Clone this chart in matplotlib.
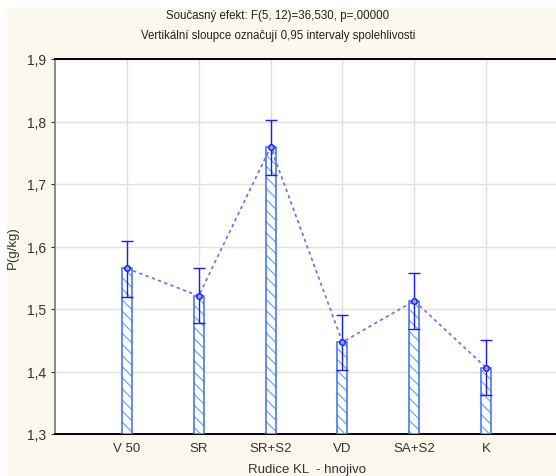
import matplotlib.pyplot as plt
import matplotlib as mpl
from matplotlib.patches import Rectangle

plt.rcParams['font.family'] = ['Liberation Sans', 'DejaVu Sans']
mpl.rcParams['hatch.linewidth'] = 0.8

categories = ['V 50', 'SR', 'SR+S2', 'VD', 'SA+S2', 'K']
means = [1.565, 1.521, 1.759, 1.447, 1.513, 1.406]
ci_low = [1.519, 1.478, 1.714, 1.402, 1.468, 1.362]
ci_high = [1.609, 1.566, 1.802, 1.490, 1.558, 1.450]
yticks = [1.3, 1.4, 1.5, 1.6, 1.7, 1.8, 1.9]

fig = plt.figure(figsize=(5.56, 4.77), dpi=100, facecolor='#fdf8ee')
# white strips of the original screenshot
fig.patches.append(Rectangle((0, 0.982), 1, 0.02, transform=fig.transFigure,
                             facecolor='white', edgecolor='none', zorder=0))
fig.patches.append(Rectangle((0, 0), 0.013, 1, transform=fig.transFigure,
                             facecolor='white', edgecolor='none', zorder=0))

ax = fig.add_axes([55 / 556, 1 - 435 / 477, 503 / 556, 375 / 477])
ax.set_facecolor('white')

x = list(range(len(categories)))
base = 1.3
heights = [m - base for m in means]
# hatch in light blue, outline in stronger blue
ax.bar(x, heights, bottom=base, width=0.14, facecolor='white',
       edgecolor='#5aa0ff', hatch='\\\\\\', linewidth=0, zorder=3)
ax.bar(x, heights, bottom=base, width=0.14, facecolor='none',
       edgecolor='#3a6cf0', linewidth=1.1, zorder=3)
ax.plot(x, means, linestyle=(0, (2, 2)), color='#6a6aff', linewidth=1.2, zorder=4)
ax.errorbar(x, means,
            yerr=[[m - l for m, l in zip(means, ci_low)],
                  [h - m for m, h in zip(means, ci_high)]],
            fmt='o', color='#1a1aff', markersize=4, markerfacecolor='#9a9aff',
            markeredgecolor='#1a1aff', elinewidth=1.0, capsize=4, capthick=1.0, zorder=5)

ax.set_xlim(-1, 6)
ax.set_ylim(1.3, 1.9)
ax.set_xticks(x)
ax.set_xticklabels(categories, fontsize=9.5, color='#333333')
ax.set_yticks(yticks)
ax.set_yticklabels([f'{v:.1f}'.replace('.', ',') for v in yticks], fontsize=10, color='#333333')
ax.tick_params(axis='x', length=0, pad=6)
ax.tick_params(axis='y', length=3, direction='out', color='#333333')
ax.grid(True, color='#e0e0e0', linewidth=1.0, zorder=0)
ax.set_axisbelow(True)

for s in ['top', 'bottom']:
    ax.spines[s].set_color('black')
    ax.spines[s].set_linewidth(1.4)
ax.spines['left'].set_color('#777777')
ax.spines['left'].set_linewidth(1.2)
ax.spines['right'].set_visible(False)

ax.set_ylabel('P(g/kg)', fontsize=9.5, color='#333333', labelpad=6)
ax.set_xlabel('Rudice KL  - hnojivo', fontsize=9.5, color='#333333', labelpad=6)

fig.text(0.5, 1 - 16 / 477, 'Současný efekt: F(5, 12)=36,530, p=,00000',
         ha='center', va='center', fontsize=8.3, color='#222222')
fig.text(0.5, 1 - 36 / 477, 'Vertikální sloupce označují 0,95 intervaly spolehlivosti',
         ha='center', va='center', fontsize=8.3, color='#222222')

fig.savefig('out.png', dpi=100, facecolor=fig.get_facecolor())
